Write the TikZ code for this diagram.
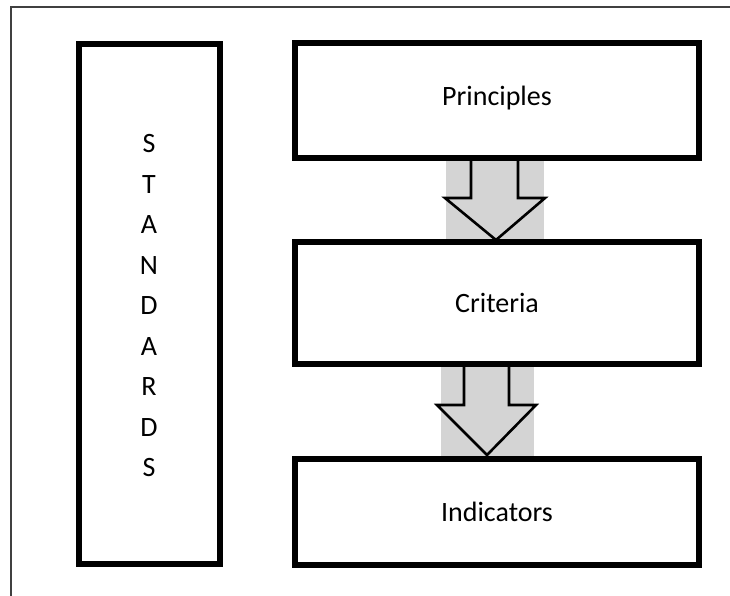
\documentclass[tikz,border=0pt]{standalone}
\usepackage{fontspec}
\setmainfont{Carlito}
\begin{document}
\begin{tikzpicture}[x=1pt,y=-1pt,
  box/.style={draw=black,line width=6pt,inner sep=0pt},
  shade/.style={fill=black!17,draw=none},
  blockarrow/.style={draw=black,line width=2.6pt,line join=miter,fill=black!17},
  lbl/.style={font=\fontsize{28}{33}\selectfont}]
\useasboundingbox (0,0) rectangle (730,596);
\fill[white] (0,0) rectangle (730,596);
\draw[line width=2pt,black!75] (11,596) -- (11,7) -- (730,7);
% shaded backgrounds of block arrows
\path[shade] (446,158) rectangle (544,241);
\path[shade] (441,362) rectangle (534,456);
% block arrows
\draw[blockarrow] (471,158) -- (471,198) -- (445,198) -- (496,240) -- (545,198) -- (518,198) -- (518,158);
\draw[blockarrow] (464,363) -- (464,405) -- (437,405) -- (487,455) -- (536,405) -- (509,405) -- (509,363);
% boxes
\node[box,minimum width=141pt,minimum height=520pt] (std) at (149.5,304) {};
\node[box,minimum width=404pt,minimum height=115pt] (pri) at (497,100.5) {};
\node[box,minimum width=404pt,minimum height=122.5pt] (cri) at (497,302.75) {};
\node[box,minimum width=404pt,minimum height=106pt] (ind) at (497,512) {};
\node[lbl] (tpri) at ([yshift=2pt]pri.center) {Principles};
\node[lbl] (tcri) at (cri.center) {Criteria};
\node[lbl] (tind) at (ind.center) {Indicators};
\node[lbl,align=center,font=\fontsize{28}{40.5}\selectfont] (tstd) at (149,306) {S\\T\\A\\N\\D\\A\\R\\D\\S};
\end{tikzpicture}
\end{document}
